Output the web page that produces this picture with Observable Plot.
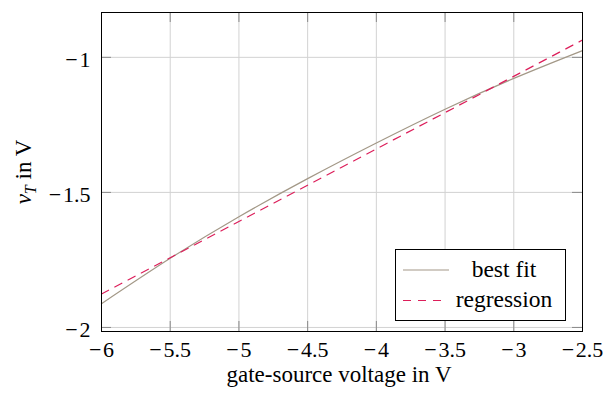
<!DOCTYPE html>
<html><head><meta charset="utf-8">
<script src="https://cdn.jsdelivr.net/npm/d3@7"></script>
<script src="https://cdn.jsdelivr.net/npm/@observablehq/plot@0.6"></script>
<style>
body{margin:0;background:#fff;}
#wrap{position:relative;width:606px;height:396px;font-family:"Liberation Serif","Times New Roman",serif;}
#legend{position:absolute;left:395px;top:249px;}
</style></head><body><div id="wrap"></div>
<script>
// gate-source voltage (V)
const voltage = [-6, -5.5, -5, -4.5, -4, -3.5, -3, -2.5];
// best fit threshold voltage v_T (V)
const bestFit = [-1.912, -1.744, -1.590, -1.449, -1.317, -1.192, -1.078, -0.975];
// regression line end points
const regVoltage = [-6, -2.5];
const regression = [-1.876, -0.936];
// ticks
const xTicks = [-6, -5.5, -5, -4.5, -4, -3.5, -3, -2.5];
const yTicks = [-2, -1.5, -1];
const xLabel = "gate-source voltage in V";
const yLabel = "v";
const seriesNames = ["best fit", "regression"];

const fitData = voltage.map((x, i) => ({x, y: bestFit[i]}));
const regData = regVoltage.map((x, i) => ({x, y: regression[i]}));
const fmt = d => (d < 0 ? "\u2212\u200A" : "") + Math.abs(d);

const FONT = "'Liberation Serif', 'Times New Roman', serif";
const fitColor = "#a39887";
const regColor = "#dc1e5a";

const chart = Plot.plot({
  width: 606, height: 396,
  marginLeft: 101, marginRight: 24, marginTop: 12, marginBottom: 65,
  style: {fontFamily: FONT, fontSize: "22px", background: "#fff", color: "#000"},
  x: {domain: [-6, -2.5]},
  y: {domain: [-2.015, -0.834]},
  marks: [
    Plot.ruleX(xTicks, {stroke: "#d2d2d2", strokeWidth: 1}),
    Plot.ruleY(yTicks, {stroke: "#d2d2d2", strokeWidth: 1}),
    Plot.tickX(xTicks, {x: d => d, insetTop: 309, stroke: "#8a8a8a"}),
    Plot.tickX(xTicks, {x: d => d, insetBottom: 309, stroke: "#8a8a8a"}),
    Plot.tickY(yTicks, {y: d => d, insetRight: 471, stroke: "#8a8a8a"}),
    Plot.tickY(yTicks, {y: d => d, insetLeft: 471, stroke: "#8a8a8a"}),
    Plot.line(fitData, {x: "x", y: "y", curve: "natural", stroke: fitColor, strokeWidth: 1.2}),
    Plot.line(regData, {x: "x", y: "y", stroke: regColor, strokeWidth: 1.2, strokeDasharray: "8,7"}),
    Plot.frame({stroke: "#000", strokeWidth: 1}),
    Plot.axisX(xTicks, {tickSize: 0, tickPadding: 10, tickFormat: fmt, label: null, fontSize: 22, fontFamily: FONT, fontVariant: "normal"}),
    Plot.axisY(yTicks, {tickSize: 0, tickPadding: 11, tickFormat: fmt, label: null, fontSize: 22, fontFamily: FONT, fontVariant: "normal", dy: 3}),
    Plot.text([xLabel], {frameAnchor: "bottom", textAnchor: "middle", dy: 50, dx: -3, fontSize: 23, fontFamily: FONT, text: d => d}),
    Plot.text([yLabel], {frameAnchor: "left", textAnchor: "middle", dx: -78, rotate: -90, fontSize: 23, fontFamily: FONT, text: d => d, className: "ylab"})
  ]
});

// y label with italic v and subscript T
d3.select(chart).selectAll(".ylab text").each(function() {
  const t = d3.select(this);
  t.text(null);
  t.append("tspan").attr("font-style", "italic").text("v");
  t.append("tspan").attr("font-style", "italic").attr("font-size", 16).attr("dy", 5).text("T");
  t.append("tspan").attr("dy", -5).text(" in V");
});

const wrap = document.getElementById("wrap");
wrap.appendChild(chart);

// legend inside the plot area
const leg = d3.create("svg").attr("id", "legend").attr("width", 172).attr("height", 73);
leg.append("rect").attr("x", 0.5).attr("y", 0.5).attr("width", 170).attr("height", 71)
  .attr("fill", "#fff").attr("stroke", "#000");
const rows = [
  {name: seriesNames[0], color: fitColor, dash: null, y: 21, x2: 54},
  {name: seriesNames[1], color: regColor, dash: "8,7", y: 51.5, x2: 50}
];
rows.forEach(r => {
  leg.append("line").attr("x1", 8).attr("x2", r.x2).attr("y1", r.y).attr("y2", r.y)
    .attr("stroke", r.color).attr("stroke-width", 1.2).attr("stroke-dasharray", r.dash);
  leg.append("text").attr("x", 109).attr("y", r.y + 6.5).attr("text-anchor", "middle")
    .attr("font-family", FONT).attr("font-size", 23.5).text(r.name);
});
wrap.appendChild(leg.node());
</script>
</body></html>
